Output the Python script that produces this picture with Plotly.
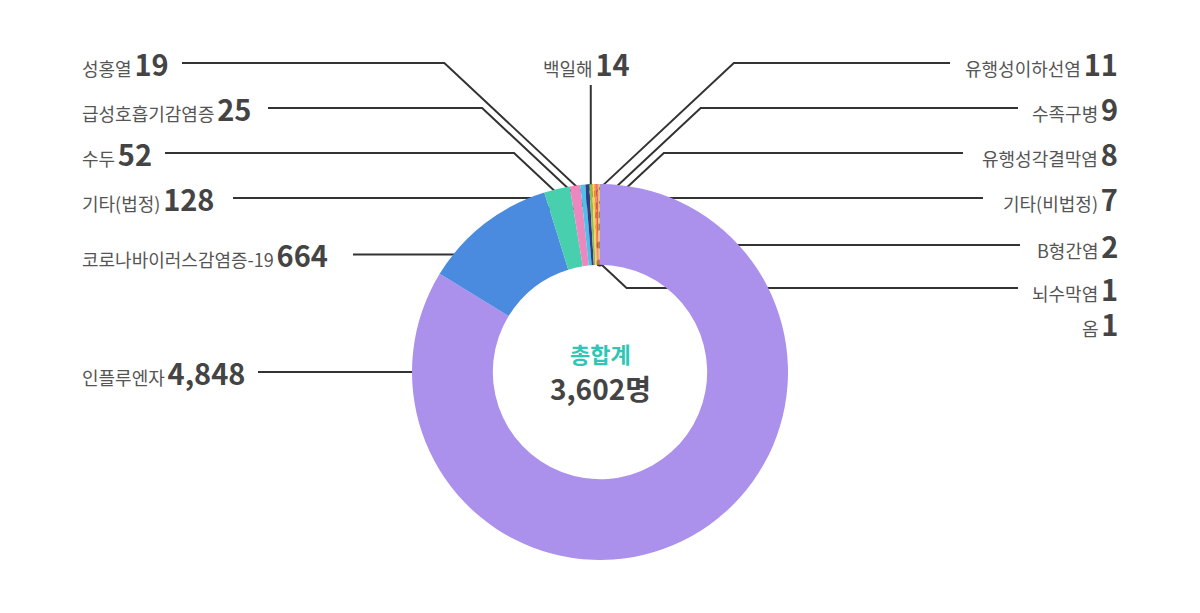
import math
import plotly.graph_objects as go

# ---- data ----
categories = ["인플루엔자", "코로나바이러스감염증-19", "기타(법정)", "수두", "급성호흡기감염증",
              "성홍열", "백일해", "유행성이하선염", "수족구병", "유행성각결막염",
              "기타(비법정)", "B형간염", "뇌수막염", "옴"]
values = [4848, 664, 128, 52, 25, 19, 14, 11, 9, 8, 7, 2, 1, 1]
colors = ["#ab90ec", "#4a8bdf", "#48cfae", "#ec87c0", "#4fc1e9", "#34398a", "#8cc152",
          "#ffce54", "#fc8f3c", "#ed5565", "#f6bb42", "#a0d468", "#d770ad", "#9aa3ad"]
center_title = "총합계"
center_total = "3,602명"

# ---- geometry (pixels) ----
W, H = 1200, 613
CX, CY, R = 600, 372, 188
HOLE = 0.57

# label layout: side, row y (None = use dot y), dot radius, line end x, angle override
label_cfg = {
    "인플루엔자":            ("L", None, 153, 258, 270.0),
    "코로나바이러스감염증-19": ("L", None, 149, 353, None),
    "기타(법정)":            ("L", 198, 153, 233, None),
    "수두":                 ("L", 153, 160, 165, None),
    "급성호흡기감염증":        ("L", 108, 169, 268, None),
    "성홍열":               ("L", 63, 175, 182, None),
    "백일해":               ("T", 85, 185, None, None),
    "유행성이하선염":          ("R", 63, 178, 950, None),
    "수족구병":              ("R", 108, 166, 1018, None),
    "유행성각결막염":          ("R", 153, 157, 963, None),
    "기타(비법정)":           ("R", 198, 145, 983, None),
    "B형간염":              ("R", None, 127, 1020, None),
    "뇌수막염":              ("R", 288, 109, 1018, None),
    "옴":                  ("N", 323, None, None, None),
}

total = sum(values)
fig = go.Figure()

fig.add_trace(go.Pie(
    labels=categories, values=values, sort=False, direction="clockwise", rotation=0,
    hole=HOLE, textinfo="none", hoverinfo="label+value",
    marker=dict(colors=colors, line=dict(width=0)),
    domain=dict(x=[(CX - R) / W, (CX + R) / W], y=[(H - CY - R) / H, (H - CY + R) / H]),
    showlegend=False,
))

lx, ly, dx_, dy_ = [], [], [], []
annotations = []
KFONT = "Noto Sans CJK KR"
cum = 0
for cat, v in zip(categories, values):
    mid = (cum + v / 2) / total * 360
    cum += v
    side, row_y, r, line_x, ang = label_cfg[cat]
    text = (f"<span style='font-size:18px;color:#555'>{cat}</span> "
            f"<b><span style='font-size:29px;color:#444'>{v:,}</span></b>")
    if side == "N":
        annotations.append(dict(x=1120, y=row_y, xref="x", yref="y", text=text,
                                xanchor="right", yanchor="middle", showarrow=False))
        continue
    a = math.radians(ang if ang is not None else mid)
    px = CX + r * math.sin(a)
    py = CY - r * math.cos(a)
    dx_.append(px); dy_.append(py)
    if side == "T":
        lx += [px, px, None]; ly += [py, row_y, None]
        annotations.append(dict(x=px - 4, y=63, xref="x", yref="y", text=text,
                                xanchor="center", yanchor="middle", showarrow=False))
        continue
    yy = py if row_y is None else row_y
    k = 1.07
    if side == "L":
        ex = px - abs(py - yy) * k
        lx += [px, ex, line_x, None]; ly += [py, yy, yy, None]
        annotations.append(dict(x=80, y=yy, xref="x", yref="y", text=text,
                                xanchor="left", yanchor="middle", showarrow=False))
    else:
        ex = px + abs(py - yy) * k
        lx += [px, ex, line_x, None]; ly += [py, yy, yy, None]
        annotations.append(dict(x=1120, y=yy, xref="x", yref="y", text=text,
                                xanchor="right", yanchor="middle", showarrow=False))

fig.add_trace(go.Scatter(x=lx, y=ly, mode="lines", line=dict(color="#333", width=2),
                         hoverinfo="skip", showlegend=False))
fig.add_trace(go.Scatter(x=dx_, y=dy_, mode="markers", marker=dict(color="#333", size=7),
                         hoverinfo="skip", showlegend=False))

annotations.append(dict(x=CX, y=353, xref="x", yref="y", showarrow=False,
                        text=f"<b>{center_title}</b>",
                        font=dict(size=22, color="#2ec6b4", family=KFONT)))
annotations.append(dict(x=CX, y=388, xref="x", yref="y", showarrow=False,
                        text=f"<b>{center_total}</b>",
                        font=dict(size=28, color="#444", family=KFONT)))

fig.update_layout(
    width=W, height=H, margin=dict(l=0, r=0, t=0, b=0),
    paper_bgcolor="white", plot_bgcolor="rgba(0,0,0,0)",
    font=dict(family=KFONT, color="#444"),
    xaxis=dict(range=[0, W], visible=False, fixedrange=True),
    yaxis=dict(range=[H, 0], visible=False, fixedrange=True),
    annotations=annotations,
)

fig.write_html("out.html", config={"displayModeBar": False},
               post_script="document.body.style.margin='0';")
